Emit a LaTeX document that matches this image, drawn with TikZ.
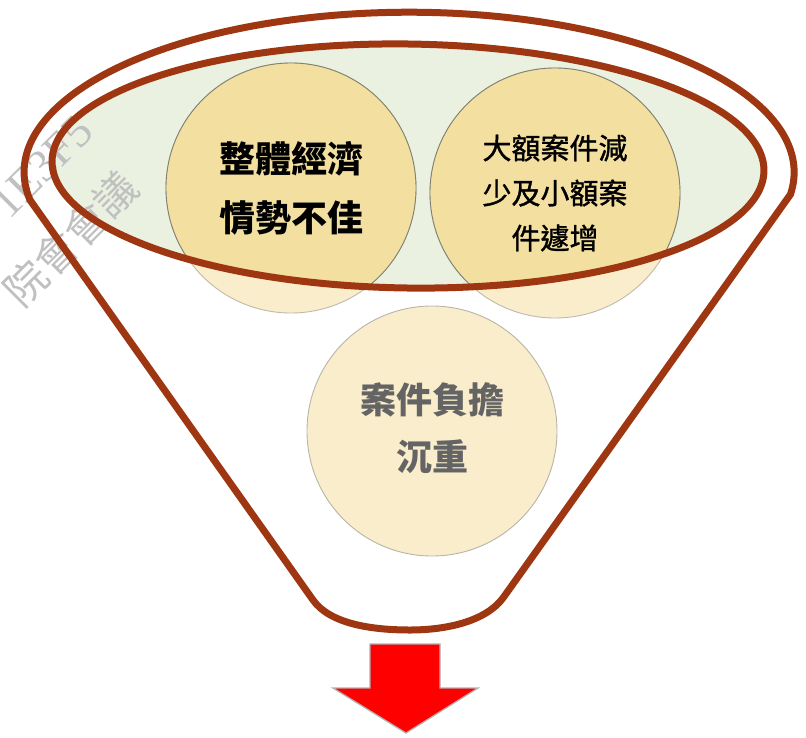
\documentclass[tikz,border=0pt]{standalone}
\usepackage{fontspec}
\newfontfamily\cjk{Noto Sans CJK TC}
\newfontfamily\cjkm[FakeBold=1.2]{Noto Sans CJK TC}
\newfontfamily\wmserif{Liberation Serif}
\definecolor{brn}{RGB}{158,54,18}
\definecolor{grn}{RGB}{235,241,225}
\definecolor{goldA}{RGB}{243,224,161}
\definecolor{goldB}{RGB}{249,237,203}
\definecolor{wm}{RGB}{192,192,192}
\definecolor{rimA}{RGB}{130,128,115}
\definecolor{rimB}{RGB}{190,186,172}
\definecolor{txtgray}{RGB}{100,100,100}
\definecolor{arrowrim}{RGB}{175,175,175}
\begin{document}
\begin{tikzpicture}[x=1pt,y=1pt,
  brownline/.style={draw=brn,line width=7pt,line join=round},
  bubble/.style={circle,minimum size=250pt,inner sep=0pt,fill=goldB,draw=rimB,line width=0.9pt},
  bigtext/.style={align=center,font=\cjk\bfseries\fontsize{36}{59}\selectfont},
  midtext/.style={align=center,font=\cjkm\fontsize{29}{45}\selectfont},
  graytext/.style={align=center,text=txtgray,font=\cjk\bfseries\fontsize{36}{57}\selectfont},
  watermark/.style={text=wm,rotate=45,inner sep=0pt}
]
\useasboundingbox (0,0) rectangle (806,-737);

% inner ellipse fill
\path[fill=grn,rotate around={-0.8:(408,-166)}] (408,-166) ellipse[x radius=356,y radius=122];

% bubbles (light parts)
\node[bubble] (c1) at (291,-188) {};
\node[bubble] (c2) at (555,-193) {};
\node[bubble,draw=rimB!90!gray] (c3) at (432,-431) {};

% darker parts inside the ellipse
\begin{scope}
  \clip[rotate around={-0.8:(408,-166)}] (408,-166) ellipse[x radius=356,y radius=122];
  \fill[goldA] (c1.center) circle[radius=125];
  \fill[goldA] (c2.center) circle[radius=125];
  \draw[rimA,line width=0.9pt] (c1.center) circle[radius=125];
  \draw[rimA,line width=0.9pt] (c2.center) circle[radius=125];
\end{scope}

% watermark
\node[watermark,font=\wmserif\fontsize{46}{46}\selectfont] (wm1) at (42,-167) {1E3F5};
\node[watermark,font=\cjk\fontsize{42}{42}\selectfont] (wm2) at (71,-239) {院會會議};

% texts
\node[bigtext] (t1) at (c1) {整體經濟\\情勢不佳};
\node[midtext] (t2) at (c2) {大額案件減\\少及小額案\\件遽增};
\node[graytext] (t3) at ([yshift=2.5pt]c3.center) {案件負擔\\沉重};

% inner ellipse stroke
\draw[brownline,rotate around={-0.8:(408,-166)}] (408,-166) ellipse[x radius=356,y radius=122];

% funnel outline
\draw[brownline] (313,-600) -- (30,-200)
  arc[start angle=190,end angle=-8,x radius=385,y radius=160]
  -- (503,-598)
  .. controls (485,-622) and (445,-630) .. (410,-630)
  .. controls (372,-630) and (330,-624) .. (313,-600) -- cycle;

% arrow
\draw[draw=arrowrim,fill=red,line width=1.3pt,line join=miter]
  (370,-644) -- (440,-644) -- (440,-688) -- (478,-688) -- (406,-733)
  -- (333,-688) -- (370,-688) -- cycle;
\end{tikzpicture}
\end{document}
